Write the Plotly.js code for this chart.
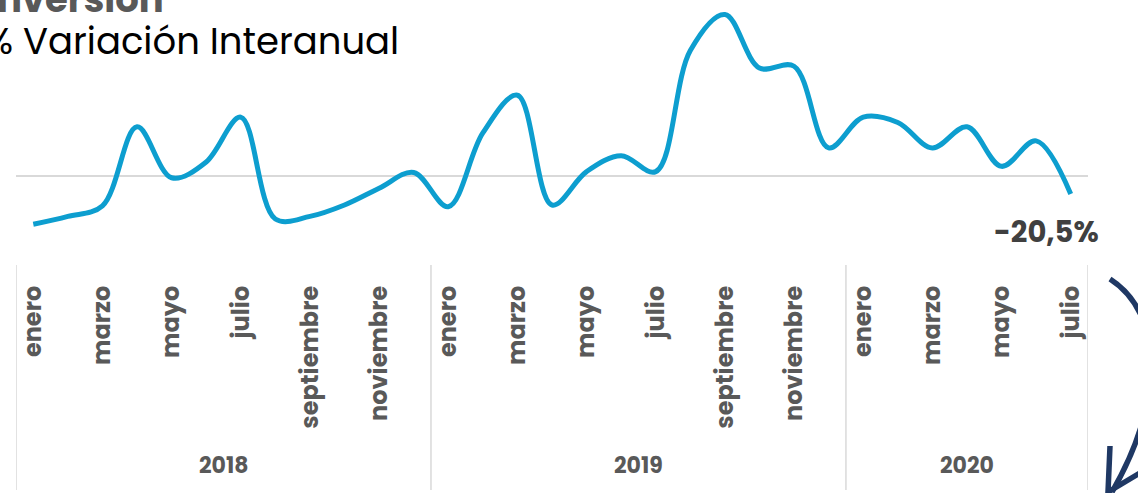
<!DOCTYPE html>
<html>
<head>
<meta charset="utf-8">
<script src="https://cdn.plot.ly/plotly-3.0.1.min.js"></script>
<style>
  html, body { margin: 0; padding: 0; background: #ffffff; }
  #chart { width: 1138px; height: 493px; }
</style>
</head>
<body>
<div id="chart"></div>
<script>
// ---- data ----
const monthNames = ['enero','febrero','marzo','abril','mayo','junio','julio','agosto','septiembre','octubre','noviembre','diciembre'];
const years = ['2018','2019','2020'];
const monthsPerYear = [12, 12, 7];
const values = [-55, -46, -34, 56, -2, 16, 67, -49, -46, -33, -14, 4,
                -35, 49, 92, -33, 5, 23, 5, 143, 184, 123, 125, 32,
                67, 61, 32, 56, 11, 40, -20.5];
const lastLabel = '-20,5%';
const titleMain = 'Inversión';
const titleSub = '% Variación Interanual';

// categories built from the arrays above
const categories = [];
const tickText = [];
years.forEach((yr, yi) => {
  for (let m = 0; m < monthsPerYear[yi]; m++) {
    categories.push(monthNames[m] + ' ' + yr);
    tickText.push(monthNames[m]);
  }
});
const tickVals = categories.filter((c, i) => i % 2 === 0);
const tickTxt = tickText.filter((c, i) => i % 2 === 0);

// ---- layout helpers ----
const W = 1138, H = 493;
const M = {l: 16, r: 50, t: 5, b: 253};
const PW = W - M.l - M.r, PH = H - M.t - M.b;
const px = x => (x - M.l) / PW;
const py = y => (H - M.b - y) / PH;

const FONT = "Poppins, 'Open Sans', sans-serif";
const GREY = '#595959';

// year groups
const yearStart = [];
let acc = 0;
monthsPerYear.forEach(n => { yearStart.push(acc); acc += n; });

const shapes = [];
const annotations = [];
yearStart.forEach((s, i) => {
  shapes.push({type: 'line', xref: 'x', yref: 'paper', x0: s - 0.5, x1: s - 0.5,
               y0: py(265), y1: py(490), line: {color: '#d9d9d9', width: 1.5}});
  annotations.push({xref: 'x', yref: 'paper', x: s + (monthsPerYear[i] - 1) / 2, y: py(466),
                    text: '<b>' + years[i] + '</b>', showarrow: false,
                    font: {family: FONT, size: 22, color: GREY}, xanchor: 'center', yanchor: 'middle'});
});
shapes.push({type: 'line', xref: 'x', yref: 'paper', x0: acc - 0.5, x1: acc - 0.5,
             y0: py(265), y1: py(490), line: {color: '#d9d9d9', width: 1.5}});

// curved arrow
shapes.push({type: 'path', xref: 'paper', yref: 'paper',
  path: `M ${px(1110)} ${py(279)} C ${px(1166)} ${py(315)}, ${px(1162)} ${py(405)}, ${px(1112)} ${py(492)}`,
  line: {color: '#1f3864', width: 5.5}});
shapes.push({type: 'path', xref: 'paper', yref: 'paper',
  path: `M ${px(1110)} ${py(446)} L ${px(1108)} ${py(492)} L ${px(1145)} ${py(470)}`,
  line: {color: '#1f3864', width: 5.5}});

// titles
annotations.push({xref: 'paper', yref: 'paper', x: px(166), y: py(-1), xanchor: 'right', yanchor: 'middle',
  text: '<b>' + titleMain + '</b>', showarrow: false, font: {family: FONT, size: 37, color: GREY}});
annotations.push({xref: 'paper', yref: 'paper', x: px(401), y: py(41), xanchor: 'right', yanchor: 'middle',
  text: titleSub, showarrow: false, font: {family: FONT, size: 37, color: '#000000'}});
// last value label
annotations.push({xref: 'paper', yref: 'paper', x: px(1046), y: py(232), xanchor: 'center', yanchor: 'middle',
  text: '<b>' + lastLabel + '</b>', showarrow: false, font: {family: FONT, size: 29, color: '#404040'}});

const trace = {
  x: categories, y: values, type: 'scatter', mode: 'lines',
  line: {color: '#0d9ecf', width: 5, shape: 'spline', smoothing: 1},
  hoverinfo: 'skip'
};

// y scale: zero at pixel 176, 0.878 px per unit
const k = 0.878;
const layout = {
  width: W, height: H,
  margin: M,
  paper_bgcolor: '#ffffff', plot_bgcolor: '#ffffff',
  showlegend: false,
  font: {family: FONT},
  xaxis: {
    type: 'category', range: [-0.5, categories.length - 0.5],
    tickmode: 'array', tickvals: tickVals, ticktext: tickTxt,
    tickangle: -90, ticks: '', showgrid: false, showline: false, zeroline: false,
    tickfont: {family: FONT, size: 24, color: GREY, weight: 'bold'},
    ticklabelstandoff: 40
  },
  yaxis: {
    range: [(176 - (H - M.b)) / k, (176 - M.t) / k],
    showgrid: false, showticklabels: false, ticks: '', showline: false,
    zeroline: true, zerolinecolor: '#d9d9d9', zerolinewidth: 2
  },
  shapes: shapes,
  annotations: annotations
};

Plotly.newPlot('chart', [trace], layout, {displayModeBar: false, staticPlot: true});
</script>
</body>
</html>
